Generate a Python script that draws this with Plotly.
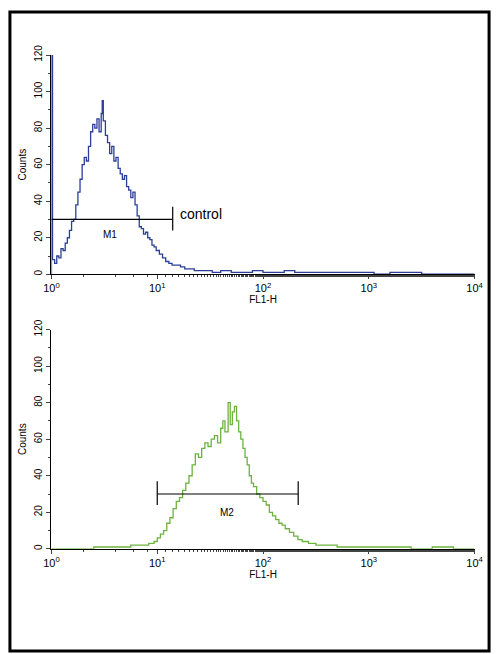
import plotly.graph_objects as go

# log10 of FL1-H channel, and counts
blue_x = [0.0, 0.0, 0.01, 0.03, 0.05, 0.07, 0.09, 0.11, 0.13, 0.15, 0.17, 0.19, 0.21, 0.23, 0.25,
          0.27, 0.29, 0.31, 0.33, 0.35, 0.37, 0.39, 0.41, 0.43, 0.45, 0.47, 0.48, 0.49, 0.51, 0.53,
          0.55, 0.57, 0.59, 0.61, 0.63, 0.65, 0.67, 0.69, 0.71, 0.73, 0.75, 0.77, 0.79, 0.81, 0.83,
          0.85, 0.87, 0.89, 0.91, 0.93, 0.95, 0.97, 0.99, 1.02, 1.05, 1.08, 1.11, 1.14, 1.18, 1.22,
          1.26, 1.30, 1.35, 1.40, 1.46, 1.52, 1.60, 1.70, 1.80, 1.90, 2.0, 2.1, 2.2, 2.3, 2.45,
          2.6, 2.75, 2.9, 3.05, 3.2, 3.3, 3.5, 3.7, 3.9, 4.0]
blue_y = [0, 120, 8, 6, 10, 9, 14, 13, 17, 20, 24, 29, 30, 38, 45,
          52, 60, 64, 62, 70, 78, 82, 80, 85, 78, 88, 95, 84, 76, 72,
          66, 70, 62, 64, 58, 55, 52, 54, 48, 46, 42, 45, 38, 32, 26,
          25, 22, 23, 20, 19, 16, 15, 13, 11, 9, 7, 6, 5, 5, 4,
          3, 3, 2, 2, 2, 1, 2, 1, 1, 2, 1, 1, 2, 1, 1,
          1, 1, 1, 0, 1, 1, 0, 0, 0, 0]

green_x = [0.0, 0.2, 0.4, 0.6, 0.75, 0.85, 0.92, 0.97, 1.0, 1.03, 1.06, 1.09, 1.12, 1.15, 1.18,
           1.21, 1.24, 1.27, 1.30, 1.33, 1.36, 1.39, 1.42, 1.45, 1.48, 1.51, 1.54, 1.57, 1.60, 1.62,
           1.64, 1.67, 1.69, 1.71, 1.73, 1.75, 1.77, 1.79, 1.81, 1.83, 1.85, 1.87, 1.89, 1.91, 1.94,
           1.97, 2.0, 2.03, 2.06, 2.09, 2.12, 2.15, 2.18, 2.21, 2.25, 2.29, 2.33, 2.37, 2.43, 2.5,
           2.6, 2.7, 2.85, 3.0, 3.2, 3.4, 3.6, 3.8, 4.0]
green_y = [0, 0, 1, 1, 2, 2, 3, 4, 6, 8, 10, 14, 17, 22, 26,
           28, 32, 36, 40, 46, 52, 50, 55, 58, 56, 60, 62, 58, 66, 70,
           64, 80, 68, 75, 78, 70, 64, 60, 55, 50, 46, 40, 36, 34, 30,
           28, 26, 24, 20, 18, 16, 14, 13, 11, 9, 7, 5, 4, 3, 2,
           2, 1, 1, 1, 1, 0, 1, 0, 0]

y_ticks = [0, 20, 40, 60, 80, 100, 120]
x_ticks = [1, 10, 100, 1000, 10000]
x_tick_text = ["10<sup>0</sup>", "10<sup>1</sup>", "10<sup>2</sup>", "10<sup>3</sup>", "10<sup>4</sup>"]

fig = go.Figure()
fig.add_trace(go.Scatter(x=[10 ** v for v in blue_x], y=blue_y, mode="lines",
                         line=dict(color="#2a3f9a", width=1.3, shape="hv"), xaxis="x", yaxis="y"))
fig.add_trace(go.Scatter(x=[10 ** v for v in green_x], y=green_y, mode="lines",
                         line=dict(color="#6cb33f", width=1.3, shape="hv"), xaxis="x2", yaxis="y2"))

# gates
fig.add_trace(go.Scatter(x=[1, 14, None, 14, 14], y=[30, 30, None, 24, 37], mode="lines",
                         line=dict(color="black", width=1.2), xaxis="x", yaxis="y"))
fig.add_trace(go.Scatter(x=[10, 215, None, 10, 10, None, 215, 215], y=[30, 30, None, 24, 37, None, 24, 37],
                         mode="lines", line=dict(color="black", width=1.2), xaxis="x2", yaxis="y2"))

ax = dict(type="log", range=[0, 4], tickvals=x_ticks, ticktext=x_tick_text, showgrid=False,
          showline=True, linecolor="black", ticks="outside", ticklen=4, zeroline=False,
          tickfont=dict(size=11, color="black"), title=dict(text="FL1-H", font=dict(size=10), standoff=2),
          minor=dict(ticks="outside", ticklen=2, showgrid=False))
ay = dict(range=[0, 120], tickvals=y_ticks, showgrid=False, showline=True, linecolor="black",
          ticks="outside", ticklen=4, zeroline=False, tickangle=-90,
          tickfont=dict(size=10, color="black"), title=dict(text="Counts", font=dict(size=10), standoff=4),
          minor=dict(ticks="outside", ticklen=2, dtick=10))

fig.update_layout(
    width=500, height=654, autosize=False, showlegend=False, paper_bgcolor="white", plot_bgcolor="white",
    margin=dict(l=0, r=0, t=0, b=0), font=dict(family="Liberation Sans", color="black"),
    xaxis=dict(ax, domain=[0.09, 0.966], anchor="y"),
    yaxis=dict(ay, domain=[0.589, 0.930], anchor="x"),
    xaxis2=dict(ax, domain=[0.09, 0.966], anchor="y2"),
    yaxis2=dict(ay, domain=[0.162, 0.503], anchor="x2"),
    annotations=[
        dict(x=0.55, y=22, xref="x", yref="y", text="M1", showarrow=False, font=dict(size=10)),
        dict(x=1.2, y=33, xref="x", yref="y", text="control", showarrow=False, xanchor="left",
             font=dict(size=14)),
        dict(x=1.66, y=20, xref="x2", yref="y2", text="M2", showarrow=False, font=dict(size=10)),
    ],
    shapes=[dict(type="rect", xref="paper", yref="paper", x0=0.004, y0=0.003, x1=0.996, y1=0.997,
                 line=dict(color="black", width=3))],
)

fig.write_html("out.html", config=dict(displayModeBar=False, responsive=False),
               post_script="document.documentElement.style.margin='0';document.body.style.margin='0';"
                           "document.body.style.padding='0';document.body.style.overflow='hidden';")
